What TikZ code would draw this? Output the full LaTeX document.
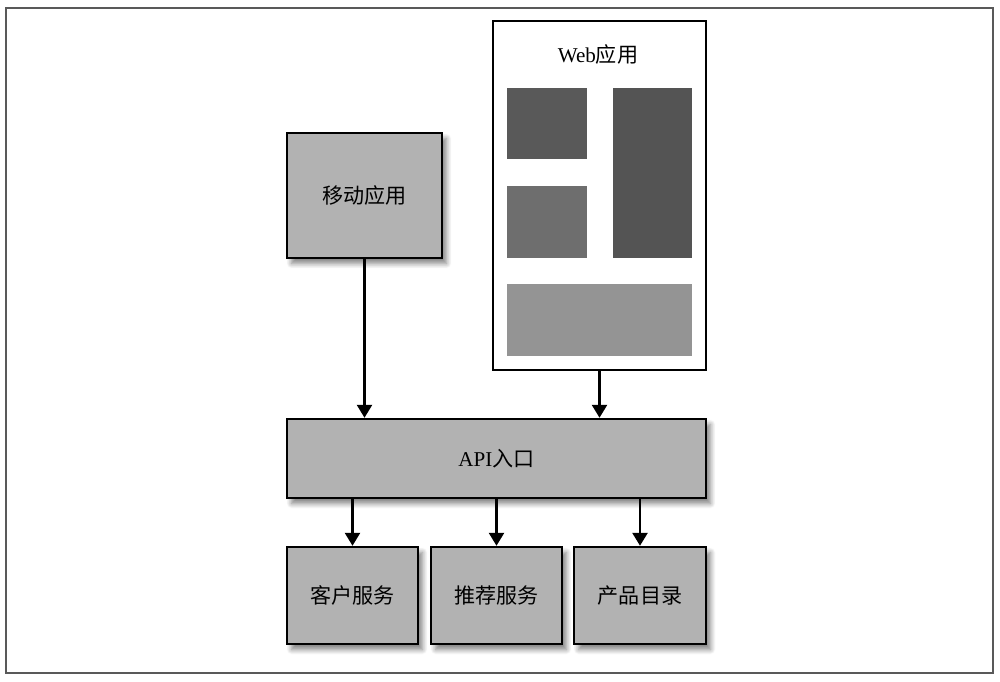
\documentclass[tikz,border=0pt]{standalone}
\usepackage{fontspec}
\setmainfont{Liberation Serif}
\newfontfamily\cjk{Noto Sans CJK SC}
\usetikzlibrary{arrows.meta,shadows.blur}

\begin{document}
\begin{tikzpicture}[x=0.02cm, y=-0.02cm,
		box/.style={draw, line width=1.4pt, fill=black!30, inner sep=0pt, font=\fontsize{12}{14}\selectfont,
			blur shadow={shadow xshift=0.09cm, shadow yshift=-0.11cm, shadow blur steps=8, shadow blur radius=0.1cm, shadow opacity=50}},
		link/.style={line width=1.5pt, -{Triangle[length=0.26cm, width=0.3cm]}}]
		%%%%% START %%%%%
		
		\useasboundingbox (0, 0) rectangle (1000, 682);
		\draw[line width=0.6pt, color=black!65] (6, 8) rectangle (993, 673);
		
		\node[box, minimum width=3.1cm, minimum height=2.5cm] (mobile) at (364.5, 195.5) {\cjk 移动应用};
		
		\node[draw, line width=1.4pt, fill=white, minimum width=4.26cm, minimum height=6.98cm] (web) at (599.5, 195.5) {};
		\node[font=\fontsize{12}{14}\selectfont] (webtitle) at (598, 54) {Web{\cjk 应用}};
		\fill[color=black!65] (507, 88) rectangle (587, 159);
		\fill[color=black!57] (507, 186) rectangle (587, 258);
		\fill[color=black!67] (613, 88) rectangle (692, 258);
		\fill[color=black!42] (507, 284) rectangle (692, 356);
		
		\node[box, minimum width=8.38cm, minimum height=1.58cm] (api) at (496.5, 458.5) {API{\cjk 入口}};
		
		\node[box, minimum width=2.62cm, minimum height=1.94cm] (customer) at (352.5, 595.5) {\cjk 客户服务};
		\node[box, minimum width=2.62cm, minimum height=1.94cm] (recommend) at (496.5, 595.5) {\cjk 推荐服务};
		\node[box, minimum width=2.64cm, minimum height=1.94cm] (catalog) at (640, 595.5) {\cjk 产品目录};
		
		\draw[link] (mobile.south) -- (mobile.south |- api.north);
		\draw[link] (web.south) -- (web.south |- api.north);
		\draw[link] (customer.north |- api.south) -- (customer.north);
		\draw[link] (recommend.north |- api.south) -- (recommend.north);
		\draw[link] (catalog.north |- api.south) -- (catalog.north);
		
		%%%%% END %%%%%
	\end{tikzpicture}
\end{document}
